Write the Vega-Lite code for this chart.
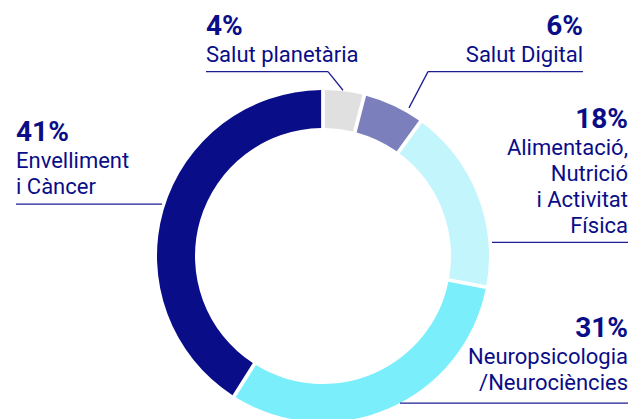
{
  "$schema": "https://vega.github.io/schema/vega-lite/v6.json",
  "width": 641,
  "height": 419,
  "autosize": {"type": "fit", "contains": "padding"},
  "padding": 0,
  "background": "white",
  "config": {"view": {"stroke": null}},
  "datasets": {
    "segments": [
      {"cat": "Salut planetària", "pct": 4, "ord": 1},
      {"cat": "Salut Digital", "pct": 6, "ord": 2},
      {"cat": "Alimentació, Nutrició i Activitat Física", "pct": 18, "ord": 3},
      {"cat": "Neuropsicologia/Neurociències", "pct": 31, "ord": 4},
      {"cat": "Envelliment i Càncer", "pct": 41, "ord": 5}
    ],
    "labels": [
      {"cat": "Salut planetària", "pctText": "4%", "lines": ["Salut planetària"], "side": "left", "lx": 206, "ly": 36},
      {"cat": "Salut Digital", "pctText": "6%", "lines": ["Salut Digital"], "side": "right", "lx": 583, "ly": 36},
      {"cat": "Alimentació, Nutrició i Activitat Física", "pctText": "18%", "lines": ["Alimentació,", "Nutrició", "i Activitat", "Física"], "side": "right", "lx": 628, "ly": 130},
      {"cat": "Neuropsicologia/Neurociències", "pctText": "31%", "lines": ["Neuropsicologia", "/Neurociències"], "side": "right", "lx": 628, "ly": 344},
      {"cat": "Envelliment i Càncer", "pctText": "41%", "lines": ["Envelliment", "i Càncer"], "side": "left", "lx": 16, "ly": 144}
    ],
    "leaders": [
      {"cat": "Salut planetària", "x": 206, "y": 73, "x2": 328, "y2": 73},
      {"cat": "Salut planetària", "x": 328, "y": 73, "x2": 343, "y2": 92},
      {"cat": "Salut Digital", "x": 428, "y": 73, "x2": 583, "y2": 73},
      {"cat": "Salut Digital", "x": 428, "y": 73, "x2": 409, "y2": 110},
      {"cat": "Alimentació, Nutrició i Activitat Física", "x": 492, "y": 247, "x2": 628, "y2": 247},
      {"cat": "Neuropsicologia/Neurociències", "x": 400, "y": 411, "x2": 628, "y2": 411},
      {"cat": "Envelliment i Càncer", "x": 16, "y": 208, "x2": 162, "y2": 208}
    ]
  },
  "layer": [
    {
      "data": {"name": "segments"},
      "mark": {"type": "arc", "radius": 166, "radius2": 128, "padAngle": 0.018},
      "encoding": {
        "theta": {"field": "pct", "type": "quantitative", "stack": true},
        "order": {"field": "ord", "type": "quantitative"},
        "x": {"datum": 323, "type": "quantitative", "scale": {"domain": [0, 641], "nice": false, "zero": false}, "axis": null},
        "y": {"datum": 261, "type": "quantitative", "scale": {"domain": [0, 419], "reverse": true, "nice": false, "zero": false}, "axis": null},
        "color": {
          "field": "cat", "type": "nominal", "legend": null,
          "scale": {
            "domain": ["Salut planetària", "Salut Digital", "Alimentació, Nutrició i Activitat Física", "Neuropsicologia/Neurociències", "Envelliment i Càncer"],
            "range": ["#e0e0e0", "#7b7fbc", "#c2f5fc", "#7aeffb", "#0a0d88"]
          }
        }
      }
    },
    {
      "data": {"name": "leaders"},
      "mark": {"type": "rule", "color": "#1c1f93", "strokeWidth": 1.3},
      "encoding": {
        "x": {"field": "x", "type": "quantitative"},
        "y": {"field": "y", "type": "quantitative"},
        "x2": {"field": "x2"},
        "y2": {"field": "y2"}
      }
    },
    {
      "data": {"name": "labels"},
      "transform": [{"filter": "datum.side === 'left'"}],
      "layer": [
        {
          "mark": {"type": "text", "align": "left", "baseline": "alphabetic", "font": "Roboto", "fontWeight": "bold", "fontSize": 28, "color": "#0a0d88"},
          "encoding": {
            "x": {"field": "lx", "type": "quantitative"},
            "y": {"field": "ly", "type": "quantitative"},
            "text": {"field": "pctText"}
          }
        },
        {
          "mark": {"type": "text", "align": "left", "baseline": "alphabetic", "font": "Roboto", "fontSize": 22, "lineHeight": 26, "dy": 27, "color": "#0a0d88"},
          "encoding": {
            "x": {"field": "lx", "type": "quantitative"},
            "y": {"field": "ly", "type": "quantitative"},
            "text": {"field": "lines"}
          }
        }
      ]
    },
    {
      "data": {"name": "labels"},
      "transform": [{"filter": "datum.side === 'right'"}],
      "layer": [
        {
          "mark": {"type": "text", "align": "right", "baseline": "alphabetic", "font": "Roboto", "fontWeight": "bold", "fontSize": 28, "color": "#0a0d88"},
          "encoding": {
            "x": {"field": "lx", "type": "quantitative"},
            "y": {"field": "ly", "type": "quantitative"},
            "text": {"field": "pctText"}
          }
        },
        {
          "mark": {"type": "text", "align": "right", "baseline": "alphabetic", "font": "Roboto", "fontSize": 22, "lineHeight": 26, "dy": 27, "color": "#0a0d88"},
          "encoding": {
            "x": {"field": "lx", "type": "quantitative"},
            "y": {"field": "ly", "type": "quantitative"},
            "text": {"field": "lines"}
          }
        }
      ]
    }
  ]
}
